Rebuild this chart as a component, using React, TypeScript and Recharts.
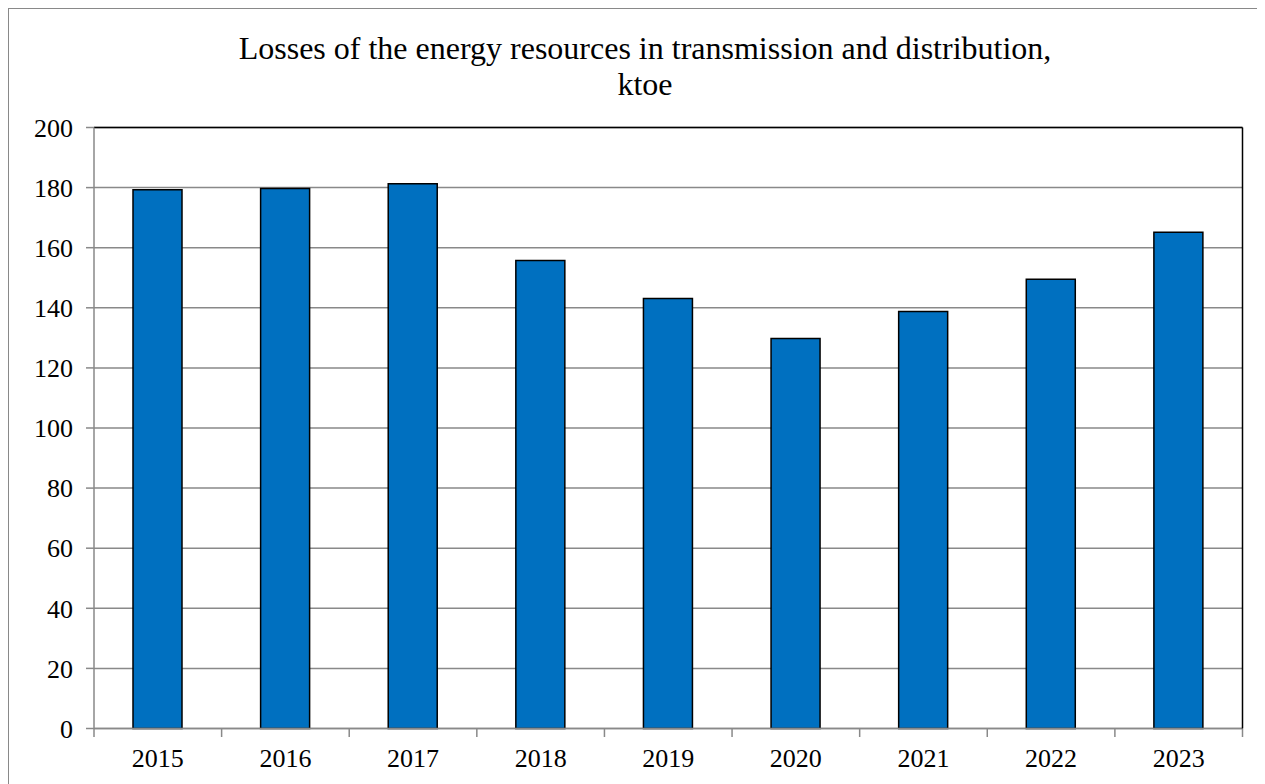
import {
  BarChart,
  Bar,
  XAxis,
  YAxis,
  CartesianGrid,
  ReferenceLine,
} from "recharts";

const years = ["2015", "2016", "2017", "2018", "2019", "2020", "2021", "2022", "2023"];
const losses = [179.3, 179.7, 181.3, 155.7, 143.1, 129.8, 138.8, 149.5, 165.1];
const yTicks = [0, 20, 40, 60, 80, 100, 120, 140, 160, 180, 200];
const titleLines = ["Losses of the energy resources in transmission and distribution,", "ktoe"];

const serif = "Liberation Serif, Times New Roman, serif";
const gray = "#898989";

const data = years.map((y, i) => ({ year: y, value: losses[i], edge: i }));
// category boundaries, used for the x tick marks between the years
const edgeTicks = years.map((_, i) => i).concat(years.length);

const tickFont = { fontFamily: "Liberation Serif", fontSize: 26, fill: "#000" };

const NoLabel = () => <g />;

export default function App() {
  return (
    <div
      style={{
        position: "relative",
        width: 1257,
        height: 776,
        overflow: "hidden",
        fontFamily: serif,
      }}
    >
      <div
        style={{
          position: "absolute",
          inset: 0,
          borderTop: `1.5px solid ${gray}`,
          borderLeft: `1.5px solid ${gray}`,
          pointerEvents: "none",
        }}
      />
      <div
        style={{
          position: "absolute",
          left: 0,
          top: 21.5,
          width: 1274,
          textAlign: "center",
          fontSize: 32,
          lineHeight: "36px",
          color: "#000",
        }}
      >
        {titleLines.map((t) => (
          <div key={t}>{t}</div>
        ))}
      </div>
      <BarChart
        width={1257}
        height={776}
        data={data}
        style={{ fontFamily: serif }}
        margin={{ top: 119.5, right: 21.5, left: 0, bottom: 0 }}
      >
        <CartesianGrid vertical={false} stroke={gray} strokeWidth={1.5} />
        {/* year labels sit on a thin axis right under the plot */}
        <XAxis
          dataKey="year"
          height={0.5}
          tickLine={false}
          tickSize={8}
          tickMargin={12}
          axisLine={{ stroke: gray, strokeWidth: 1.5 }}
          tick={tickFont}
          interval={0}
        />
        {/* tick marks between the categories */}
        <XAxis
          xAxisId="edges"
          dataKey="edge"
          type="number"
          domain={[0, years.length]}
          ticks={edgeTicks}
          allowDataOverflow
          height={55}
          tick={NoLabel}
          tickSize={8}
          tickLine={{ stroke: gray, strokeWidth: 1.5 }}
          axisLine={false}
        />
        <YAxis
          width={86}
          domain={[0, 200]}
          ticks={yTicks}
          interval={0}
          tickSize={8}
          tickMargin={13}
          tickLine={{ stroke: gray, strokeWidth: 1.5 }}
          axisLine={{ stroke: gray, strokeWidth: 1.5 }}
          tick={tickFont}
        />
        <YAxis
          yAxisId="right"
          orientation="right"
          width={1}
          domain={[0, 200]}
          tick={false}
          tickLine={false}
          axisLine={{ stroke: "#000", strokeWidth: 1.5 }}
        />
        <ReferenceLine y={200} stroke="#000" strokeWidth={1.5} />
        <Bar
          dataKey="value"
          fill="#0070C0"
          stroke="#000"
          strokeWidth={1.5}
          barSize={49}
          isAnimationActive={false}
        />
      </BarChart>
    </div>
  );
}
